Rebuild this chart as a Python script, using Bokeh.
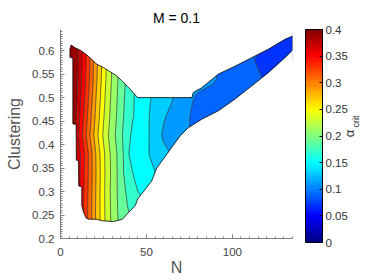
import numpy as np
from bokeh.plotting import figure
from bokeh.layouts import row
from bokeh.models import (Range1d, SingleIntervalTicker, FixedTicker,
                          CustomJSTickFormatter, ColorBar, LinearColorMapper)
from bokeh.core.properties import value
from bokeh.embed import file_html
from bokeh.resources import INLINE

nan = float("nan")

# ---- data -----------------------------------------------------------------
n_values = [5, 7, 9, 11, 13, 15, 17, 19, 21, 23, 25, 27, 30, 33, 36, 39, 42, 45,
            48, 52, 56, 60, 64, 68, 72, 76, 80, 88, 96, 104, 112, 120, 128, 135]
clustering_values = [0.22, 0.26, 0.30, 0.34, 0.38, 0.42, 0.46, 0.50, 0.54, 0.58, 0.62, 0.64]

row_022 = [nan, nan, nan, .360, .342, .326, .310, .293, .276, .261, .246, .233, .216, .203, .191, .183, .178, .172,
           nan, nan, nan, nan, nan, nan, nan, nan, nan, nan, nan, nan, nan, nan, nan, nan]
row_026 = [nan, nan, .378, .361, .343, .327, .310, .292, .275, .260, .245, .232, .215, .201, .188, .181, .176, .171,
           .166, nan, nan, nan, nan, nan, nan, nan, nan, nan, nan, nan, nan, nan, nan, nan]
row_030 = [nan, nan, .380, .363, .345, .328, .311, .293, .276, .260, .245, .231, .214, .200, .187, .176, .164, .160,
           .157, .152, .147, nan, nan, nan, nan, nan, nan, nan, nan, nan, nan, nan, nan, nan]
row_034 = [nan, .390, .380, .364, .347, .330, .313, .295, .277, .261, .246, .232, .215, .200, .183, .170, .160, .155,
           .150, .145, .139, .134, .129, nan, nan, nan, nan, nan, nan, nan, nan, nan, nan, nan]
row_038 = [nan, .390, .381, .365, .348, .331, .313, .294, .276, .260, .245, .231, .214, .199, .184, .161, .157, .153,
           .147, .139, .131, .125, .120, .116, .112, nan, nan, nan, nan, nan, nan, nan, nan, nan]
row_042 = [.397, .387, .374, .355, .337, .319, .301, .283, .266, .251, .237, .225, .208, .195, .180, .165, .157, .153,
           .148, .139, .127, .117, .112, .107, .103, .099, .096, .091, nan, nan, nan, nan, nan, nan]
row_046 = [.397, .390, .381, .362, .344, .326, .308, .290, .272, .257, .242, .230, .212, .198, .183, .171, .161, .156,
           .150, .139, .132, .122, .116, .111, .105, .099, .095, .091, .088, .085, nan, nan, nan, nan]
row_050 = [.398, .392, .386, .367, .349, .332, .314, .295, .277, .262, .246, .233, .215, .200, .185, .173, .162, .155,
           .149, .141, .135, .129, .123, .116, .109, .102, .097, .092, .089, .086, .083, .078, .074, nan]
row_054 = [.399, .395, .389, .372, .354, .337, .319, .300, .282, .266, .250, .236, .218, .202, .188, .175, .164, .157,
           nan, nan, nan, nan, nan, nan, nan, .106, .108, .104, .094, .088, .0835, .0785, .075, nan]
row_058 = [.399, .396, .391, .374, .356, .339, .321, .302, .284, .268, .252, .238, .220, .204, nan, nan, nan, nan,
           nan, nan, nan, nan, nan, nan, nan, nan, nan, .097, .093, .086, .0805, .076, .073, .0695]
row_062 = [.399, .397, .392, .376, .358, .341, .323, nan, nan, nan, nan, nan, nan, nan, nan, nan, nan, nan,
           nan, nan, nan, nan, nan, nan, nan, nan, nan, nan, nan, .088, .084, .0795, .075, .0715]
row_064 = [nan, nan, nan, nan, nan, nan, nan, nan, nan, nan, nan, nan, nan, nan, nan, nan, nan, nan,
           nan, nan, nan, nan, nan, nan, nan, nan, nan, nan, nan, nan, nan, .080, .076, .0725]

levels = [0.06, 0.08, 0.10, 0.12, 0.14, 0.16, 0.18, 0.20, 0.22, 0.24,
          0.26, 0.28, 0.30, 0.32, 0.34, 0.36, 0.38, 0.40]

# outline of the region where a value exists (N, clustering)
boundary_n = [6.2, 8.5, 11.5, 15.3, 21.2, 25.0, 28.9, 32.8, 35.7, 40.6, 44.8, 76.5, 77.3, 82.2,
              91.9, 101.6, 111.3, 120.9, 130.6, 135.0, 135.0, 130.6, 120.9, 111.3, 101.6, 91.9,
              82.2, 74.4, 70.0, 65.7, 60.0, 56.0, 53.0, 49.0, 45.0, 43.5, 39.5, 36.0, 30.8, 23.5,
              21.5, 16.7, 15.0, 13.5, 12.4, 12.4, 10.6, 10.5, 9.2, 9.1, 7.2, 7.2, 5.5, 5.5]
boundary_c = [0.612, 0.606, 0.601, 0.591, 0.571, 0.564, 0.555, 0.546, 0.536, 0.518, 0.500, 0.500,
              0.511, 0.521, 0.550, 0.567, 0.585, 0.603, 0.624, 0.631, 0.601, 0.585, 0.553, 0.525,
              0.497, 0.472, 0.454, 0.436, 0.420, 0.399, 0.370, 0.350, 0.322, 0.303, 0.285, 0.270,
              0.255, 0.241, 0.236, 0.238, 0.241, 0.241, 0.243, 0.255, 0.270, 0.310, 0.312, 0.365,
              0.367, 0.443, 0.444, 0.584, 0.586, 0.604]

colorbar_ticks = [0, 0.05, 0.1, 0.15, 0.2, 0.25, 0.3, 0.35, 0.4]
c_low, c_high = 0.0, 0.4
# ---------------------------------------------------------------------------

alpha_crit = np.array([row_022, row_026, row_030, row_034, row_038, row_042,
                       row_046, row_050, row_054, row_058, row_062, row_064], dtype=float)


def jet(t):
    t = min(max(t, 0.0), 1.0)
    r = min(max(1.5 - abs(4 * t - 3), 0), 1)
    g = min(max(1.5 - abs(4 * t - 2), 0), 1)
    b = min(max(1.5 - abs(4 * t - 1), 0), 1)
    return "#%02x%02x%02x" % (int(round(r * 255)), int(round(g * 255)), int(round(b * 255)))


jet64 = [jet((i + 0.5) / 64) for i in range(64)]
band_colors = [jet(((lo + hi) / 2 - c_low) / (c_high - c_low))
               for lo, hi in zip(levels[:-1], levels[1:])]

FONT = "Liberation Sans"
AX = "#808080"

p = figure(output_backend="svg", toolbar_location=None,
           x_range=Range1d(0, 135), y_range=Range1d(0.2, 0.645),
           frame_width=232, frame_height=209,
           min_border_left=60, min_border_top=29, min_border_bottom=0, min_border_right=13,
           title="M = 0.1")
p.background_fill_color = "white"
p.border_fill_color = "white"
p.outline_line_color = None
p.xgrid.visible = False
p.ygrid.visible = False

p.title.text_font = FONT
p.title.text_font_size = "14px"
p.title.text_font_style = "normal"
p.title.text_color = "black"
p.title.align = "center"
p.title.vertical_align = "top"
p.title.standoff = 4

p.contour(x=n_values, y=clustering_values, z=alpha_crit, levels=levels,
          fill_color=band_colors, line_color="#1a1a1a", line_width=0.6)

outer_x = [-20, 160, 160, -20]
outer_y = [0.1, 0.1, 0.8, 0.8]
p.multi_polygons(xs=[[[outer_x, boundary_n]]], ys=[[[outer_y, boundary_c]]],
                 fill_color="white", line_color=None)
p.patch(boundary_n, boundary_c, fill_alpha=0, line_color="black", line_width=0.8)

fmt = CustomJSTickFormatter(code="return String(Number(tick.toFixed(3)));")
p.xaxis.ticker = SingleIntervalTicker(interval=50, num_minor_ticks=10)
p.yaxis.ticker = SingleIntervalTicker(interval=0.05, num_minor_ticks=10)
p.yaxis.formatter = fmt
p.xaxis.axis_label = "N"
p.yaxis.axis_label = "Clustering"
for ax in (p.xaxis[0], p.yaxis[0]):
    ax.axis_line_color = AX
    ax.major_tick_line_color = AX
    ax.minor_tick_line_color = AX
    ax.major_tick_in = 4
    ax.major_tick_out = 0
    ax.minor_tick_in = 2
    ax.minor_tick_out = 0
    ax.major_label_text_font = FONT
    ax.major_label_text_font_size = "11.5px"
    ax.major_label_text_color = "#444444"
    ax.axis_label_text_font = FONT
    ax.axis_label_text_font_size = "16px"
    ax.axis_label_text_font_style = "normal"
    ax.axis_label_text_color = "#555555"
p.yaxis.major_label_standoff = 6
p.yaxis.axis_label_standoff = 6
p.xaxis.major_label_standoff = 9
p.xaxis.axis_label_standoff = 0

# colour bar panel
cbf = figure(output_backend="svg", toolbar_location=None,
             frame_width=62, frame_height=213,
             min_border_left=0, min_border_right=0, min_border_top=26, min_border_bottom=20,
             x_range=Range1d(0, 62), y_range=Range1d(0, 213),
             x_axis_location=None, y_axis_location=None)
cbf.outline_line_color = None
cbf.xgrid.visible = False
cbf.ygrid.visible = False
cbf.background_fill_color = "white"
cbf.border_fill_color = "white"

mapper = LinearColorMapper(palette=jet64, low=c_low, high=c_high)
cb = ColorBar(color_mapper=mapper, ticker=FixedTicker(ticks=colorbar_ticks), formatter=fmt,
              width=17, height=213, padding=0, margin=0, location=(0, 0),
              bar_line_color="black",
              major_tick_line_color="black", major_tick_in=3, major_tick_out=0,
              minor_tick_line_color=None, label_standoff=3,
              major_label_text_font=FONT, major_label_text_font_size="11.5px",
              major_label_text_color="#333333", background_fill_alpha=0)
cbf.add_layout(cb, "center")

cbf.text(x=[44], y=[109], text=["α"], angle=np.pi / 2,
         text_font=value(FONT), text_font_size="13px", text_color="#333333",
         text_align="center", text_baseline="middle")
cbf.text(x=[50.5], y=[121], text=["crit"], angle=np.pi / 2,
         text_font=value(FONT), text_font_size="9px", text_color="#333333",
         text_align="center", text_baseline="middle")

layout = row(p, cbf)
open("out.html", "w").write(file_html(layout, INLINE))
